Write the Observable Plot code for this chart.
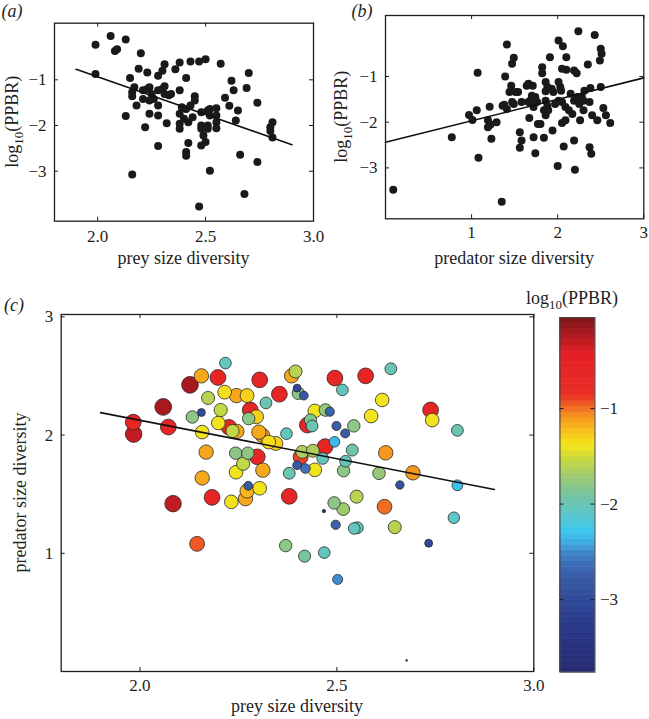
<!DOCTYPE html>
<html><head><meta charset="utf-8">
<script src="https://cdn.jsdelivr.net/npm/d3@7"></script>
<script src="https://cdn.jsdelivr.net/npm/@observablehq/plot@0.6"></script>
<style>
body{margin:0;background:#fff;}
#root{position:relative;width:649px;height:719px;overflow:hidden;background:#fff;}
#root svg{position:absolute;left:0;top:0;}
#root svg text{font-family:"Liberation Serif","Times New Roman",serif;}
</style></head><body><div id="root"></div>
<script>
// ---------- data ----------
// panel (a): prey size diversity vs log10(PPBR)
const aPts = [
[1.99,-0.23],[2.06,-0.04],[2.13,-0.12],[2.09,-0.33],[2.08,-0.37],[2.20,-0.42],[1.99,-0.87],
[2.19,-0.76],[2.23,-0.84],[2.31,-0.66],[2.30,-0.80],[2.28,-0.91],[2.36,-0.77],[2.38,-0.62],[2.43,-0.60],[2.47,-0.60],[2.50,-0.55],[2.57,-0.65],[2.41,-0.96],[2.15,-0.96],
[2.70,-0.85],[2.62,-1.02],[2.63,-1.23],[2.59,-1.39],[2.61,-1.57],[2.65,-1.67],[2.64,-1.89],[2.69,-1.18],[2.74,-1.50],[2.81,-1.93],[2.80,-2.04],[2.80,-2.12],[2.81,-2.26],[2.66,-2.64],[2.74,-2.80],[2.68,-3.50],
[2.47,-3.77],[2.16,-3.07],[2.52,-2.99],[2.28,-2.45],[2.22,-2.04],[2.13,-1.79],[2.32,-1.95],
[2.17,-1.16],[2.16,-1.27],[2.16,-1.36],[2.18,-1.56],[2.21,-1.23],[2.21,-1.42],[2.23,-1.20],[2.24,-1.16],[2.25,-1.31],[2.24,-1.45],[2.26,-1.42],[2.28,-1.23],[2.30,-1.20],[2.31,-1.14],[2.31,-1.31],[2.33,-1.34],[2.34,-1.31],[2.28,-1.56],[2.24,-1.74],[2.28,-1.78],
[2.38,-1.23],[2.45,-1.36],[2.45,-1.45],[2.43,-1.56],[2.41,-1.64],[2.39,-1.60],[2.38,-1.74],[2.40,-1.85],[2.44,-1.82],[2.42,-1.93],[2.38,-1.96],[2.38,-2.07],[2.48,-1.71],[2.51,-1.67],[2.52,-1.64],[2.55,-1.62],[2.52,-1.78],[2.55,-1.78],[2.48,-2.00],[2.51,-2.00],[2.55,-1.93],[2.55,-2.06],[2.51,-2.07],[2.48,-2.07],[2.49,-2.22],[2.50,-2.36],[2.48,-2.44],[2.42,-2.38],[2.41,-2.58],[2.41,-2.66]
];
const aLine = [[1.9,-0.77],[2.9,-2.42]];

// panel (b): predator size diversity vs log10(PPBR)
const bPts = [
[0.09,-3.48],[1.35,-3.74],[1.08,-2.78],[0.77,-2.33],[1.07,-0.92],[1.41,-0.30],[1.39,-1.00],[1.49,-0.59],[1.47,-0.72],
[0.97,-1.84],[1.01,-1.95],[1.06,-1.74],[1.21,-1.66],[1.19,-1.96],[1.22,-2.05],[1.19,-2.11],[1.29,-2.00],[1.23,-2.36],
[1.36,-1.64],[1.41,-1.71],[1.38,-1.62],[1.47,-1.56],[1.49,-1.60],[1.58,-1.56],[1.44,-1.34],[1.51,-1.34],[1.54,-1.34],[1.46,-1.20],
[1.66,-1.16],[1.64,-1.20],[1.71,-1.20],[1.70,-1.42],[1.74,-1.45],[1.68,-1.53],[1.66,-1.56],[1.76,-1.56],[1.72,-1.67],[1.67,-1.91],
[1.77,-2.04],[1.80,-2.04],[1.56,-2.22],[1.58,-2.40],[1.56,-2.56],[1.72,-2.33],[1.74,-2.68],[1.84,-2.34],
[1.91,-0.58],[2.01,-0.21],[2.06,-0.34],[2.10,-0.58],[1.82,-0.80],[1.82,-0.93],[2.05,-0.83],[2.10,-0.85],[2.19,-0.87],
[2.24,-0.01],[2.43,-0.09],[2.35,-0.74],[2.50,-0.39],[2.51,-0.50],[2.49,-0.65],[2.22,-0.93],
[1.86,-1.12],[1.88,-1.23],[1.86,-1.32],[1.93,-1.27],[1.95,-1.34],[2.01,-1.12],[2.03,-1.23],[2.04,-1.31],
[1.86,-1.53],[1.88,-1.64],[1.84,-1.74],[1.89,-1.74],[1.86,-1.85],[1.97,-1.60],[2.01,-1.53],[2.05,-1.56],[2.09,-1.67],[2.13,-1.74],[2.17,-1.82],
[1.94,-2.18],[2.05,-2.02],[2.09,-1.96],[2.07,-2.53],[2.19,-2.40],
[2.15,-1.38],[2.23,-1.45],[2.28,-1.45],[2.31,-1.31],[2.38,-1.25],[2.50,-1.23],[2.19,-1.53],[2.25,-1.60],[2.30,-1.53],[2.37,-1.56],
[2.30,-1.74],[2.40,-1.85],[2.46,-1.96],[2.53,-1.69],[2.56,-1.85],[2.61,-2.02],[2.37,-2.55],[2.39,-2.69],[2.00,-2.96],[2.20,-3.04],[2.26,-1.96]
];
const bLine = [[0.0,-2.44],[3.0,-1.03]];

// panel (c): [prey size diversity, predator size diversity, log10(PPBR)]
const cPts = [
[2.217,2.609,-2.05],[2.156,2.501,-1.15],[2.198,2.487,-0.6],[2.127,2.425,-0.2],[2.304,2.467,-0.6],[2.395,2.538,-1.6],[2.385,2.501,-1.15],
[2.495,2.482,-0.6],[2.573,2.501,-0.6],[2.514,2.382,-2.05],[2.637,2.561,-2.0],[2.399,2.397,-3.0],[2.402,2.354,-1.8],[2.416,2.334,-2.8],
[2.354,2.346,-0.6],[2.320,2.272,-2.0],[2.215,2.363,-1.35],[2.245,2.334,-1.15],[2.272,2.334,-1.3],[2.173,2.314,-1.6],[2.059,2.238,-0.2],
[2.156,2.191,-3.0],[2.133,2.153,-1.8],[2.205,2.212,-1.55],[2.280,2.212,-0.6],[2.296,2.155,-1.3],[2.276,2.139,-1.8],[2.199,2.102,-1.4],
[1.983,2.109,-0.6],[1.984,2.008,-0.3],[2.072,2.068,-0.6],[2.158,2.025,-1.4],[2.226,2.066,-0.7],[2.246,2.031,-1.15],[2.235,2.034,-1.55],
[2.302,2.025,-1.15],[2.311,1.997,-1.1],[2.327,1.941,-1.35],[2.345,1.929,-1.3],[2.372,2.012,-2.05],[2.444,2.204,-1.4],[2.471,2.212,-1.75],
[2.482,2.198,-2.7],[2.433,2.127,-1.85],[2.425,2.085,-0.6],[2.437,2.077,-2.0],[2.499,2.077,-2.75],[2.521,2.014,-2.75],[2.543,2.078,-1.8],
[2.494,1.943,-2.35],[2.470,1.902,-0.6],[2.539,1.873,-1.95],[2.624,1.850,-1.1],[2.412,1.858,-1.65],[2.439,1.867,-1.65],[2.408,1.816,-0.9],
[2.464,1.802,-2.05],[2.522,1.779,-2.05],[2.399,1.745,-2.8],[2.420,1.717,-2.6],[2.444,1.706,-1.4],[2.517,1.699,-1.8],[2.607,1.677,-1.75],
[2.693,1.681,-1.1],[2.379,1.677,-2.0],[2.660,1.578,-2.9],[2.806,1.575,-2.3],[2.168,1.856,-1.15],[2.243,1.847,-1.8],[2.274,1.847,-1.8],
[2.298,1.816,-0.65],[2.262,1.757,-1.55],[2.244,1.686,-1.4],[2.312,1.703,-1.15],[2.158,1.637,-1.15],[2.275,1.571,-2.8],[2.272,1.527,-1.2],
[2.304,1.550,-1.4],[2.183,1.473,-0.6],[2.232,1.435,-1.4],[2.268,1.462,-1.15],[2.084,1.420,-0.3],[2.379,1.482,-0.6],[2.467,1.357,-3.65],
[2.493,1.426,-1.8],[2.516,1.374,-1.7],[2.550,1.479,-1.6],[2.621,1.394,-1.0],[2.797,1.301,-2.1],[2.497,1.241,-2.7],[2.544,1.210,-2.05],
[2.552,1.216,-2.0],[2.647,1.221,-1.6],[2.733,1.085,-3.0],[2.145,1.080,-0.95],[2.370,1.065,-1.8],[2.418,0.976,-1.9],[2.468,1.006,-2.05],
[2.502,0.779,-2.5],[2.677,0.094,-3.76],[2.806,2.040,-2.0],[2.615,2.297,-1.4],[2.587,2.161,-1.4],[2.738,2.212,-0.6],[2.742,2.127,-1.4]
];
const cLine = [[1.9,2.19],[2.9,1.54]];

const preyTicks = [2.0, 2.5, 3.0];
const predTicksB = [1, 2, 3];
const predTicksC = [1, 2, 3];
const ppbrTicks = [-1, -2, -3];
const VMIN = -3.76, VMAX = -0.05;

// jet-like colour map as printed
const jetT = [0, 0.15, 0.28, 0.33, 0.37, 0.40, 0.45, 0.50, 0.55, 0.60, 0.64, 0.68, 0.72, 0.75, 0.78, 0.90, 0.95, 1];
const jetC = ["#262a72","#2b3c8e","#3a5faa","#3f7ec4","#3fb2e6","#3ec8ef","#5ec6c6","#76c4a0","#9cc970","#c6d940","#f6e51a","#f8c11c","#f5961e","#f06523","#ea2f26","#e31e24","#b01a20","#7a1416"];

// ---------- layout ----------
const W = 649, H = 719;
const FONT = '"Liberation Serif","Times New Roman",serif';
const INK = "#1e1e1e";
const TK = 4;
const minus = d => (d < 0 ? "\u2212" : "") + Math.abs(d);
const fix1 = d => d.toFixed(1);
const colorOpts = {type: "linear", domain: jetT.map(t => VMIN + t * (VMAX - VMIN)), range: jetC, interpolate: "rgb"};

function frameTicks(box, xt, yt) {
  const [l, t, r, b] = box, iw = r - l, ih = b - t;
  const o = {stroke: INK, strokeWidth: 1};
  return [
    Plot.ruleX(xt, {...o, insetTop: ih - TK}),
    Plot.ruleX(xt, {...o, insetBottom: ih - TK}),
    Plot.ruleY(yt, {...o, insetRight: iw - TK}),
    Plot.ruleY(yt, {...o, insetLeft: iw - TK})
  ];
}

const axisText = {tickSize: 0, label: null, fontSize: 17, fontFamily: FONT};

function panel(box, xdom, ydom, xt, yt, xf, yf, xpad, marks, extra = {}) {
  const [l, t, r, b] = box;
  return Plot.plot({
    width: W, height: H,
    marginLeft: l, marginTop: t, marginRight: W - r, marginBottom: H - b,
    x: {domain: xdom}, y: {domain: ydom},
    style: `background:transparent;overflow:visible;font-family:${FONT};font-size:17px;color:${INK};`,
    ...extra,
    marks: [
      ...marks,
      Plot.frame({stroke: INK, strokeWidth: 1.3}),
      ...frameTicks(box, xt, yt),
      Plot.axisX({...axisText, ticks: xt, tickPadding: xpad, tickFormat: xf}),
      Plot.axisY({...axisText, ticks: yt, tickPadding: 8, tickFormat: yf})
    ]
  });
}

const root = document.getElementById("root");
const xy = {x: d => d[0], y: d => d[1]};

// panel (c)
const boxC = [60.7, 314, 533.3, 671];
root.append(panel(boxC, [1.8, 3.0], [0, 3.02], preyTicks, predTicksC, fix1, d => d, 7, [
  Plot.dot(cPts, {...xy, r: d => d[2] - VMIN + 0.04, fill: d => d[2], stroke: "#2a2a2a", strokeWidth: 0.8}),
  Plot.line(cLine, {...xy, stroke: "#111", strokeWidth: 1.6})
], {color: colorOpts, r: {type: "sqrt", domain: [0, 3.75], range: [0, 8.55]}}));

// colour bar
const NB = 64;
const bands = d3.range(NB).map(i => ({
  y1: VMIN + i * (VMAX - VMIN) / NB,
  y2: VMIN + (i + 1) * (VMAX - VMIN) / NB,
  mid: VMIN + (i + 0.5) * (VMAX - VMIN) / NB
}));
const boxCB = [559.5, 317.3, 594.5, 671.7];
root.append(Plot.plot({
  width: W, height: H,
  marginLeft: boxCB[0], marginTop: boxCB[1], marginRight: W - boxCB[2], marginBottom: H - boxCB[3],
  y: {domain: [VMIN, VMAX]},
  color: colorOpts,
  style: `background:transparent;overflow:visible;font-family:${FONT};font-size:17px;color:${INK};`,
  marks: [
    Plot.rect(bands, {y1: "y1", y2: "y2", fill: "mid", stroke: "mid", strokeWidth: 0.6}),
    Plot.frame({stroke: "#444", strokeWidth: 1}),
    Plot.ruleY(ppbrTicks, {stroke: INK, insetRight: 35 - TK}),
    Plot.ruleY(ppbrTicks, {stroke: INK, insetLeft: 35 - TK}),
    Plot.axisY({...axisText, anchor: "right", ticks: ppbrTicks, tickPadding: 5, tickFormat: minus})
  ]
}));

// panel (a)
const boxA = [54, 22.7, 313, 220.7];
root.append(panel(boxA, [1.8, 3.0], [-4.094, 0.239], preyTicks, ppbrTicks, fix1, minus, 9, [
  Plot.dot(aPts, {...xy, r: 4, fill: "#1a1a1a"}),
  Plot.line(aLine, {...xy, stroke: "#111", strokeWidth: 1.6})
]));

// panel (b)
const boxB = [385, 15, 643.3, 218.3];
root.append(panel(boxB, [0, 3], [-4.114, 0.335], predTicksB, ppbrTicks, d => d, minus, 7, [
  Plot.dot(bPts, {...xy, r: 4, fill: "#1a1a1a"}),
  Plot.line(bLine, {...xy, stroke: "#111", strokeWidth: 1.6})
]));

// ---------- text labels ----------
const ov = d3.select(root).append("svg").attr("width", W).attr("height", H)
  .style("font-family", FONT).style("fill", INK);
function label(x, y, rot, parts, size = 18, italic = false) {
  const t = ov.append("text").attr("text-anchor", "middle").attr("font-size", size)
    .attr("font-family", FONT)
    .attr("transform", `translate(${x},${y}) rotate(${rot})`);
  if (italic) t.attr("font-style", "italic");
  let shifted = false;
  for (const p of parts) {
    if (Array.isArray(p)) {
      t.append("tspan").attr("font-size", size * 0.72).attr("dy", size * 0.3).text(p[0]);
      shifted = true;
    } else {
      const s = t.append("tspan").text(p);
      if (shifted) { s.attr("dy", -size * 0.3); shifted = false; }
    }
  }
}
const ppbrLabel = ["log", ["10"], "(PPBR)"];
label(12, 17, 0, ["(a)"], 18, true);
label(362, 17, 0, ["(b)"], 18, true);
label(14, 311, 0, ["(c)"], 18, true);
label(18, (boxA[1] + boxA[3]) / 2, -90, ppbrLabel);
label((boxA[0] + boxA[2]) / 2, 264, 0, ["prey size diversity"]);
label(347, (boxB[1] + boxB[3]) / 2, -90, ppbrLabel);
label((boxB[0] + boxB[2]) / 2, 264, 0, ["predator size diversity"]);
label(26, (boxC[1] + boxC[3]) / 2, -90, ["predator size diversity"]);
label((boxC[0] + boxC[2]) / 2, 712, 0, ["prey size diversity"]);
label(572, 304, 0, ppbrLabel);
</script></body></html>
